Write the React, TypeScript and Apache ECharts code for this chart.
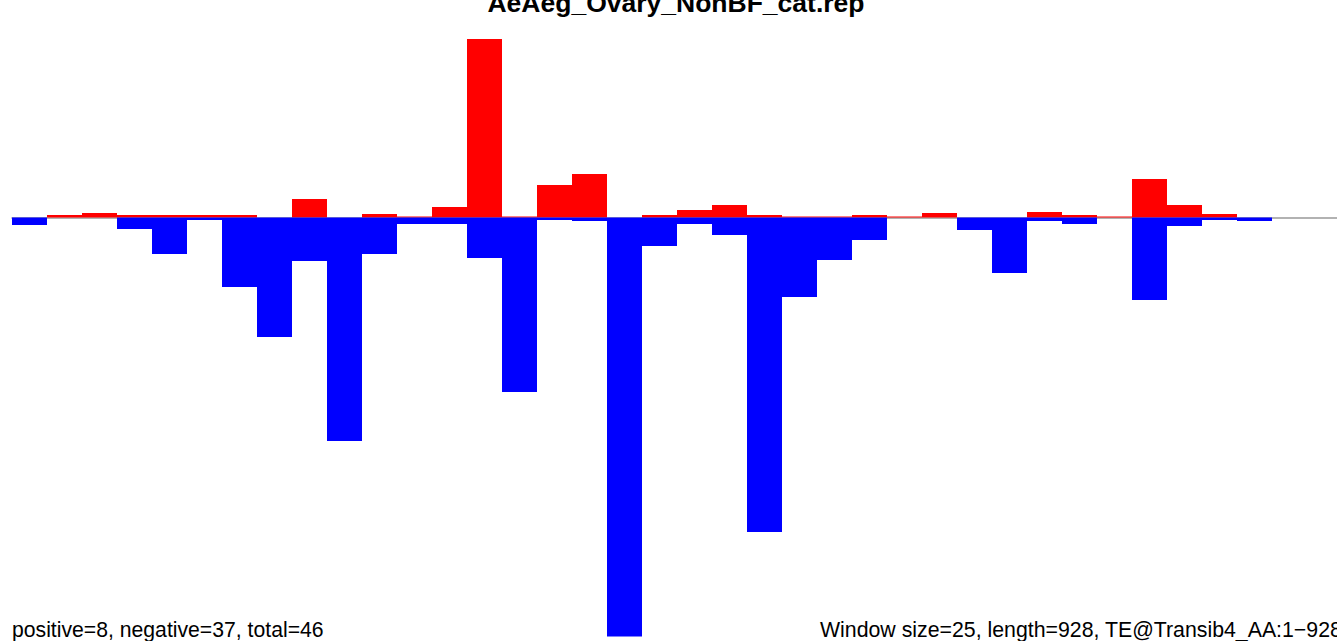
import React, { useEffect, useRef } from "react";
import * as echarts from "echarts";

// window start positions (window size 25 over length 928)
const categories: string[] = Array.from({ length: 38 }, (_, i) => String(i * 25 + 1));

// positive-strand signal (red)
const positiveValues: (number | null)[] = [
  null, 2.5, 4.5, 2.5, 2.5, 2.5, 2.5, null, 18.5, null,
  3.5, 1, 10.5, 178.5, 1, 32.5, 43.5, null, 2.5, 7.5,
  12.5, 2.5, 1, 1, 2.5, 1, 4.5, null, null, 5.5,
  2.5, 1, 38.5, 12.5, 3.5, null, null, null,
];

// negative-strand signal (blue)
const negativeValues: (number | null)[] = [
  -7.5, null, null, -11.5, -36.5, -2.5, -69.5, -119.5, -43.5, -223.5,
  -36.5, -6.5, -6.5, -40.5, -174.5, -2.5, -3.5, -419, -28.5, -6.5,
  -17.5, -314.5, -79.5, -42.5, -22.5, null, null, -12.5, -55.5, -3.5,
  -6.5, null, -82.5, -8.5, -2.5, -3.5, null, null,
];

const titleText = "AeAeg_Ovary_NonBF_cat.rep";
const leftNote = "positive=8, negative=37, total=46";
const rightNote = "Window size=25, length=928, TE@Transib4_AA:1\u2212928";

export default function App() {
  const ref = useRef<HTMLDivElement>(null);
  useEffect(() => {
    if (!ref.current) return;
    const chart = echarts.init(ref.current, null, { renderer: "svg" });
    const font = "'Liberation Sans', Arial, Helvetica, sans-serif";
    chart.setOption({
      animation: false,
      backgroundColor: "#ffffff",
      grid: { left: 12, top: 0, right: 0, bottom: 0, containLabel: false },
      xAxis: {
        type: "category",
        data: categories,
        boundaryGap: true,
        axisLine: { show: true, onZero: true, lineStyle: { color: "#999999", width: 1.5 } },
        axisTick: { show: false },
        axisLabel: { show: false },
        splitLine: { show: false },
      },
      yAxis: {
        type: "value",
        min: -423.5,
        max: 217.5,
        show: false,
        splitLine: { show: false },
      },
      series: [
        {
          type: "bar",
          data: positiveValues,
          barWidth: "100%",
          barGap: "-100%",
          barCategoryGap: 0,
          itemStyle: { color: "#ff0000" },
          z: 3,
        },
        {
          type: "bar",
          data: negativeValues,
          barWidth: "100%",
          barGap: "-100%",
          barCategoryGap: 0,
          itemStyle: { color: "#0000ff" },
          z: 4,
        },
      ],
      graphic: [
        {
          type: "text",
          x: 676,
          y: 3.3,
          style: {
            text: titleText,
            fontFamily: font,
            fontWeight: "bold",
            fontSize: 26.5,
            fill: "#000000",
            align: "center",
            verticalAlign: "middle",
          },
        },
        {
          type: "text",
          x: 12,
          y: 629.6,
          style: {
            text: leftNote,
            fontFamily: font,
            fontSize: 21.2,
            fill: "#000000",
            align: "left",
            verticalAlign: "middle",
          },
        },
        {
          type: "text",
          x: 820,
          y: 629.6,
          style: {
            text: rightNote,
            fontFamily: font,
            fontSize: 21.3,
            fill: "#000000",
            align: "left",
            verticalAlign: "middle",
          },
        },
      ],
    });
    return () => chart.dispose();
  }, []);
  return (
    <div
      ref={ref}
      style={{ position: "fixed", left: 0, top: 0, width: 1342, height: 641, overflow: "hidden" }}
    />
  );
}
